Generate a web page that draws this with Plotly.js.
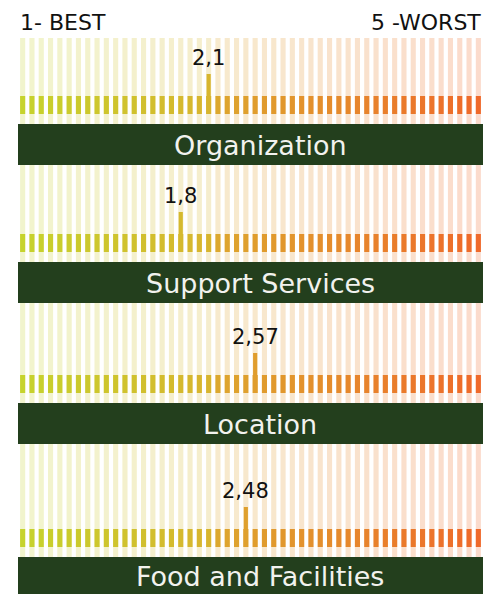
<!DOCTYPE html>
<html><head><meta charset="utf-8">
<script src="https://cdn.plot.ly/plotly-3.0.1.min.js"></script>
<style>html,body{margin:0;padding:0;background:#fff}#chart{width:489px;height:594px}</style>
</head><body><div id="chart"></div><script>
// ---- data ----
const categories = ["Organization", "Support Services", "Location", "Food and Facilities"];
const scores = [2.1, 1.8, 2.57, 2.48];
const scaleValues = [0.1,0.2,0.3,0.4,0.5,0.6,0.7,0.8,0.9,1.0,
  1.1,1.2,1.3,1.4,1.5,1.6,1.7,1.8,1.9,2.0,
  2.1,2.2,2.3,2.4,2.5,2.6,2.7,2.8,2.9,3.0,
  3.1,3.2,3.3,3.4,3.5,3.6,3.7,3.8,3.9,4.0,
  4.1,4.2,4.3,4.4,4.5,4.6,4.7,4.8,4.9,5.0];
const scaleLeftLabel = "1- BEST";
const scaleRightLabel = "5 -WORST";

// ---- layout geometry (pixels) ----
const W = 489, H = 594, X0 = 18, X1 = 483, TITLE_CX = 260;
const panels = [
  {top: 38,  bottom: 124, bannerEnd: 165},
  {top: 165, bottom: 262, bannerEnd: 303},
  {top: 303, bottom: 403, bannerEnd: 444},
  {top: 444, bottom: 557, bannerEnd: 594}
];
const FONT = "DejaVu Sans, Verdana, sans-serif";
const BANNER = "#233f1d";

const stops = [[0,[198,211,45]],[0.42,[216,180,46]],[0.43,[221,166,46]],[1,[239,105,42]]];
function grad(t){
  for (let k=0;k<stops.length-1;k++){
    const [t0,c0]=stops[k],[t1,c1]=stops[k+1];
    if (t<=t1){const f=(t-t0)/(t1-t0);return c0.map((v,j)=>Math.round(v+(c1[j]-v)*f));}
  }
  return stops[stops.length-1][1];
}
const n = scaleValues.length;
const solid = scaleValues.map((v,i)=>{const c=grad(i/(n-1));return `rgb(${c.join(',')})`;});
const pale = scaleValues.map((v,i)=>{const c=grad(i/(n-1));return `rgba(${c.join(',')},0.24)`;});

const py = p => 1 - p / H;
const px = p => p / W;
const traces = [], shapes = [], annotations = [];
const layout = {
  width: W, height: H, margin: {l:0,r:0,t:0,b:0},
  paper_bgcolor: "#fff", plot_bgcolor: "rgba(0,0,0,0)",
  barmode: "overlay", showlegend: false, separators: ", ",
  font: {family: FONT, color: "#111"}
};

categories.forEach((cat, k) => {
  const P = panels[k];
  const sfx = k === 0 ? "" : String(k + 1);
  const xa = "x" + sfx, ya = "y" + sfx;
  const h = P.bottom - P.top;
  layout["xaxis" + sfx] = {domain: [px(X0), px(X1)], range: [0.05, 5.05], visible: false, fixedrange: true, anchor: ya};
  layout["yaxis" + sfx] = {domain: [py(P.bottom), py(P.top)], range: [0, h], visible: false, fixedrange: true, anchor: xa};
  // pale background bars
  traces.push({type: "bar", x: scaleValues, y: scaleValues.map(() => h), base: 0, width: 0.055,
    marker: {color: pale, line: {width: 0}}, xaxis: xa, yaxis: ya, hoverinfo: "skip"});
  // short scale bars
  traces.push({type: "bar", x: scaleValues, y: scaleValues.map(() => 18), base: 10, width: 0.055,
    marker: {color: solid, line: {width: 0}}, xaxis: xa, yaxis: ya, hoverinfo: "skip"});
  // highlighted score bar
  const sx = Math.round(scores[k] * 10) / 10;
  const idx = scaleValues.findIndex(v => Math.abs(v - sx) < 1e-9);
  traces.push({type: "bar", x: [sx], y: [40], base: 10, width: 0.045,
    marker: {color: solid[idx], line: {width: 0}}, xaxis: xa, yaxis: ya, hoverinfo: "skip"});
  annotations.push({x: sx, y: 50, xref: xa, yref: ya, yanchor: "bottom", xanchor: "center", yshift: 2,
    text: String(scores[k]).replace(".", ","), showarrow: false, font: {size: 21, family: FONT, color: "#111"}});
  // banner
  shapes.push({type: "rect", xref: "paper", yref: "paper", x0: px(X0), x1: px(X1),
    y0: py(P.bannerEnd), y1: py(P.bottom), fillcolor: BANNER, line: {width: 0}, layer: "above"});
  annotations.push({x: px(TITLE_CX), y: py((P.bottom + P.bannerEnd) / 2 + 1), xref: "paper", yref: "paper",
    xanchor: "center", yanchor: "middle", text: cat, showarrow: false,
    font: {size: 27, family: FONT, color: "#f2f2ee"}});
});

annotations.push({x: px(X0), y: py(23), xref: "paper", yref: "paper", xanchor: "left", yanchor: "middle",
  text: scaleLeftLabel, showarrow: false, font: {size: 22, family: FONT, color: "#111"}});
annotations.push({x: px(X1), y: py(23), xref: "paper", yref: "paper", xanchor: "right", yanchor: "middle",
  text: scaleRightLabel, showarrow: false, font: {size: 22, family: FONT, color: "#111"}});

layout.shapes = shapes;
layout.annotations = annotations;
Plotly.newPlot("chart", traces, layout, {staticPlot: true, displayModeBar: false});
</script></body></html>
